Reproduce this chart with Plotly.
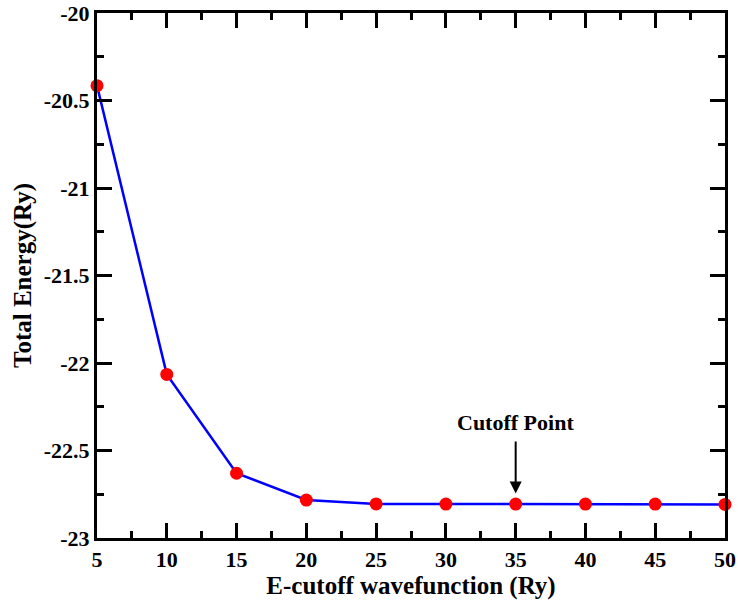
import plotly.graph_objects as go

cutoff = [5, 10, 15, 20, 25, 30, 35, 40, 45, 50]
energy = [-20.415, -22.065, -22.63, -22.783, -22.805, -22.806, -22.806, -22.806, -22.806, -22.808]
x_ticks = [5, 10, 15, 20, 25, 30, 35, 40, 45, 50]
x_tick_text = ["5", "10", "15", "20", "25", "30", "35", "40", "45", "50"]
y_ticks = [-20, -20.5, -21, -21.5, -22, -22.5, -23]
y_tick_text = ["-20", "-20.5", "-21", "-21.5", "-22", "-22.5", "-23"]
annot_text = "Cutoff Point"
annot_x = 35

font_family = "Liberation Serif"

fig = go.Figure()
fig.add_trace(go.Scatter(
    x=cutoff, y=energy, mode="lines+markers",
    line=dict(color="#0000ff", width=2.5),
    marker=dict(color="#ff0000", size=13),
    cliponaxis=False, showlegend=False,
))

fig.add_annotation(
    x=annot_x, y=-22.745, ax=annot_x, ay=-22.44,
    xref="x", yref="y", axref="x", ayref="y",
    showarrow=True, arrowhead=2, arrowsize=1.2, arrowwidth=2, arrowcolor="black",
    text="",
)
fig.add_annotation(
    x=annot_x, y=-22.34, xref="x", yref="y", showarrow=False,
    text="<b>" + annot_text + "</b>",
    font=dict(family=font_family, size=22, color="black"),
)

tick_font = dict(family=font_family, size=22, color="black", weight="bold")

axis_common = dict(
    showline=True, linecolor="black", linewidth=3, mirror="ticks",
    ticks="inside", ticklen=15, tickwidth=3, tickcolor="black",
    showgrid=False, zeroline=False, automargin=False,
)

fig.update_xaxes(
    range=[5, 50], tickmode="array", tickvals=x_ticks,
    ticktext=["<b>" + t + "</b>" for t in x_tick_text],
    tickfont=tick_font,
    title=dict(text="<b>E-cutoff wavefunction (Ry)</b>", standoff=0,
               font=dict(family=font_family, size=25, color="black")),
    minor=dict(ticks="inside", ticklen=7, tickwidth=3, tickcolor="black", dtick=2.5, tick0=5),
    **axis_common,
)
fig.update_yaxes(
    range=[-23, -20], tickmode="array", tickvals=y_ticks,
    ticktext=["<b>" + t + "</b>" for t in y_tick_text],
    tickfont=tick_font,
    title=dict(text="<b>Total Energy(Ry)</b>", standoff=6,
               font=dict(family=font_family, size=25, color="black")),
    minor=dict(ticks="inside", ticklen=7, tickwidth=3, tickcolor="black", dtick=0.25, tick0=-23),
    **axis_common,
)

fig.update_layout(
    width=738, height=601,
    margin=dict(l=97, r=13, t=13, b=63),
    font=dict(family=font_family, color="black"),
    paper_bgcolor="white", plot_bgcolor="white",
)

fig.write_html("out.html")
